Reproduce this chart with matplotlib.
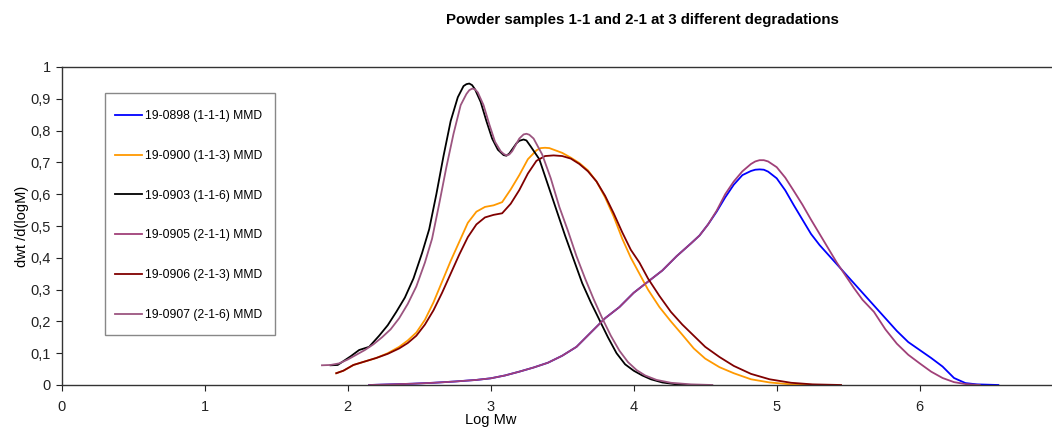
import matplotlib
matplotlib.use("Agg")
import matplotlib.pyplot as plt
from matplotlib.ticker import FuncFormatter
from matplotlib.patches import Rectangle

plt.rcParams['font.family'] = ['Liberation Sans', 'DejaVu Sans']

# ---------------- data ----------------
labels = ["19-0898 (1-1-1) MMD", "19-0900 (1-1-3) MMD", "19-0903 (1-1-6) MMD",
          "19-0905 (2-1-1) MMD", "19-0906 (2-1-3) MMD", "19-0907 (2-1-6) MMD"]
colors = ["#0000FF", "#FF9900", "#000000", "#A04078", "#800000", "#9C5580"]

x_0898 = [2.15, 2.30, 2.45, 2.60, 2.75, 2.90, 3.00, 3.10, 3.20, 3.30, 3.40, 3.50, 3.60, 3.70,
          3.80, 3.90, 4.00, 4.10, 4.20, 4.30, 4.40, 4.46, 4.52, 4.58, 4.64, 4.70, 4.76, 4.82,
          4.85, 4.88, 4.91, 4.94, 5.00, 5.06, 5.12, 5.18, 5.24, 5.30, 5.36, 5.42, 5.48, 5.54,
          5.60, 5.68, 5.76, 5.84, 5.92, 6.00, 6.08, 6.16, 6.24, 6.32, 6.40, 6.55]
y_0898 = [0.0, 0.002, 0.004, 0.007, 0.011, 0.016, 0.021, 0.03, 0.042, 0.055, 0.07, 0.092, 0.12,
          0.165, 0.21, 0.245, 0.29, 0.325, 0.36, 0.405, 0.445, 0.47, 0.505, 0.545, 0.59, 0.63,
          0.66, 0.673, 0.677, 0.678, 0.677, 0.671, 0.65, 0.612, 0.565, 0.52, 0.475, 0.44, 0.41,
          0.38, 0.35, 0.32, 0.29, 0.25, 0.21, 0.17, 0.135, 0.11, 0.085, 0.058, 0.022, 0.006,
          0.002, 0.0]

x_0900 = [1.92, 1.97, 2.04, 2.12, 2.20, 2.28, 2.36, 2.42, 2.48, 2.54, 2.60, 2.66, 2.72, 2.78,
          2.84, 2.90, 2.96, 3.02, 3.08, 3.14, 3.20, 3.26, 3.32, 3.35, 3.38, 3.41, 3.44, 3.50,
          3.56, 3.62, 3.68, 3.74, 3.80, 3.86, 3.92, 3.98, 4.04, 4.10, 4.18, 4.26, 4.34, 4.42,
          4.50, 4.60, 4.70, 4.82, 4.95, 5.10, 5.30]
y_0900 = [0.037, 0.045, 0.063, 0.074, 0.085, 0.1, 0.12, 0.14, 0.165, 0.205, 0.26, 0.325, 0.39,
          0.45, 0.51, 0.545, 0.56, 0.565, 0.575, 0.615, 0.66, 0.71, 0.738, 0.745, 0.746, 0.745,
          0.74, 0.73, 0.715, 0.698, 0.675, 0.64, 0.59, 0.53, 0.46, 0.40, 0.35, 0.30, 0.245,
          0.20, 0.158, 0.115, 0.083, 0.056, 0.037, 0.018, 0.008, 0.002, 0.0]

x_0903 = [1.88, 1.93, 1.97, 2.02, 2.08, 2.15, 2.22, 2.28, 2.34, 2.40, 2.46, 2.52, 2.57, 2.62,
          2.67, 2.72, 2.77, 2.81, 2.83, 2.85, 2.87, 2.89, 2.93, 2.97, 3.01, 3.05, 3.09, 3.11,
          3.13, 3.18, 3.20, 3.23, 3.25, 3.28, 3.34, 3.40, 3.46, 3.52, 3.58, 3.64, 3.70, 3.76,
          3.82, 3.88, 3.94, 4.00, 4.06, 4.12, 4.20, 4.30, 4.40]
y_0903 = [0.062, 0.063, 0.075, 0.09, 0.11, 0.12, 0.155, 0.188, 0.23, 0.275, 0.335, 0.415, 0.49,
          0.6, 0.72, 0.83, 0.905, 0.94, 0.946, 0.948, 0.943, 0.93, 0.89, 0.83, 0.775, 0.74,
          0.723, 0.721, 0.728, 0.76, 0.768, 0.772, 0.769, 0.75, 0.71, 0.63, 0.55, 0.47, 0.395,
          0.32, 0.26, 0.205, 0.15, 0.10, 0.065, 0.045, 0.03, 0.018, 0.008, 0.002, 0.0]

x_0905 = [2.15, 2.30, 2.45, 2.60, 2.75, 2.90, 3.00, 3.10, 3.20, 3.30, 3.40, 3.50, 3.60, 3.70,
          3.80, 3.90, 4.00, 4.10, 4.20, 4.30, 4.40, 4.46, 4.52, 4.58, 4.64, 4.70, 4.76, 4.82,
          4.85, 4.88, 4.91, 4.94, 5.00, 5.06, 5.12, 5.18, 5.24, 5.30, 5.36, 5.42, 5.48, 5.54,
          5.60, 5.68, 5.76, 5.84, 5.92, 6.00, 6.08, 6.16, 6.24, 6.32, 6.42]
y_0905 = [0.0, 0.002, 0.004, 0.007, 0.011, 0.016, 0.021, 0.03, 0.042, 0.055, 0.07, 0.092, 0.12,
          0.165, 0.21, 0.245, 0.29, 0.325, 0.36, 0.405, 0.445, 0.47, 0.505, 0.548, 0.60, 0.64,
          0.672, 0.695, 0.703, 0.707, 0.707, 0.703, 0.685, 0.652, 0.61, 0.567, 0.52, 0.475,
          0.43, 0.385, 0.345, 0.305, 0.268, 0.23, 0.175, 0.13, 0.095, 0.068, 0.042, 0.022,
          0.009, 0.003, 0.0]

x_0906 = [1.92, 1.97, 2.04, 2.12, 2.20, 2.28, 2.36, 2.42, 2.48, 2.54, 2.60, 2.66, 2.72, 2.78,
          2.84, 2.90, 2.96, 3.02, 3.08, 3.14, 3.20, 3.26, 3.32, 3.38, 3.44, 3.50, 3.56, 3.62,
          3.68, 3.74, 3.80, 3.86, 3.92, 3.98, 4.04, 4.10, 4.18, 4.26, 4.34, 4.42, 4.50, 4.60,
          4.70, 4.82, 4.95, 5.10, 5.25, 5.45]
y_0906 = [0.037, 0.045, 0.063, 0.074, 0.085, 0.098, 0.115, 0.132, 0.155, 0.19, 0.235, 0.29,
          0.35, 0.41, 0.465, 0.505, 0.527, 0.535, 0.54, 0.57, 0.613, 0.665, 0.705, 0.72, 0.722,
          0.72, 0.712, 0.695, 0.672, 0.64, 0.595, 0.54, 0.48, 0.425, 0.385, 0.335, 0.28, 0.23,
          0.19, 0.155, 0.12, 0.088, 0.06, 0.035, 0.018, 0.007, 0.002, 0.0]

x_0907 = [1.82, 1.88, 1.94, 2.00, 2.06, 2.12, 2.18, 2.24, 2.30, 2.36, 2.42, 2.48, 2.54, 2.59,
          2.64, 2.69, 2.74, 2.79, 2.83, 2.85, 2.87, 2.89, 2.91, 2.95, 2.99, 3.03, 3.07, 3.09,
          3.11, 3.13, 3.15, 3.20, 3.23, 3.25, 3.27, 3.30, 3.36, 3.42, 3.48, 3.54, 3.60, 3.66,
          3.72, 3.78, 3.84, 3.90, 3.96, 4.02, 4.08, 4.16, 4.26, 4.40, 4.55]
y_0907 = [0.062, 0.063, 0.068, 0.08, 0.095, 0.11, 0.128, 0.15, 0.175, 0.21, 0.255, 0.31, 0.385,
          0.46, 0.57, 0.685, 0.79, 0.88, 0.915, 0.927, 0.932, 0.93, 0.92, 0.88, 0.82, 0.765,
          0.735, 0.727, 0.722, 0.725, 0.735, 0.775, 0.788, 0.79, 0.787, 0.775, 0.725, 0.65,
          0.56, 0.485, 0.405, 0.335, 0.27, 0.21, 0.155, 0.108, 0.072, 0.047, 0.03, 0.016,
          0.007, 0.002, 0.0]

series_x = [x_0898, x_0900, x_0903, x_0905, x_0906, x_0907]
series_y = [y_0898, y_0900, y_0903, y_0905, y_0906, y_0907]

x_ticks = [0, 1, 2, 3, 4, 5, 6]
y_ticks = [0, 0.1, 0.2, 0.3, 0.4, 0.5, 0.6, 0.7, 0.8, 0.9, 1.0]

title = "Powder samples 1-1 and 2-1 at 3 different degradations"
xlabel = "Log Mw"
ylabel = "dwt /d(logM)"

# ---------------- figure ----------------
fig = plt.figure(figsize=(10.52, 4.28), dpi=100)
ax = fig.add_axes([61.7 / 1052, 43 / 428, 1 - 61.7 / 1052, 318 / 428])

for xs, ys, c, lab in zip(series_x, series_y, colors, labels):
    ax.plot(xs, ys, color=c, lw=1.3, label=lab, solid_joinstyle="round")

xmax = (1052 - 61.7) / 143.0
ax.set_xlim(0, xmax)
ax.set_ylim(0, 1)
ax.set_xticks(x_ticks)
ax.set_yticks(y_ticks)
ax.yaxis.set_major_formatter(FuncFormatter(lambda v, p: ("%g" % round(v, 2)).replace(".", ",")))
ax.tick_params(direction="out", length=4, width=0.8, labelsize=10.5, colors="#222222")
ax.tick_params(axis="y", pad=4)
ax.tick_params(axis="x", pad=7)

for s in ["left", "bottom", "top"]:
    ax.spines[s].set_color("#333333")
    ax.spines[s].set_linewidth(1.0)
ax.spines["right"].set_visible(False)

ax.set_xlabel(xlabel, fontsize=10.5)
ax.xaxis.set_label_coords(3.0 / xmax, -0.088)
ax.set_ylabel(ylabel, fontsize=10.5)
ax.yaxis.set_label_coords(-0.0335, 0.5)

fig.text(0.611, 0.953, title, ha="center", va="center", fontsize=10.8, fontweight="bold")

# legend box (drawn separately for exact placement)
ax.add_patch(Rectangle((0.0437, 0.1572), 0.1717, 0.761, transform=ax.transAxes,
                       facecolor="white", edgecolor="#888888", lw=1.0, zorder=4))
leg = ax.legend(loc="upper left", bbox_to_anchor=(0.0538, 0.8648), fontsize=8.7,
                frameon=False, labelspacing=2.3, handlelength=2.25, handletextpad=0.2,
                borderpad=0, borderaxespad=0)
leg.set_zorder(5)

fig.savefig("out.png", dpi=100)
